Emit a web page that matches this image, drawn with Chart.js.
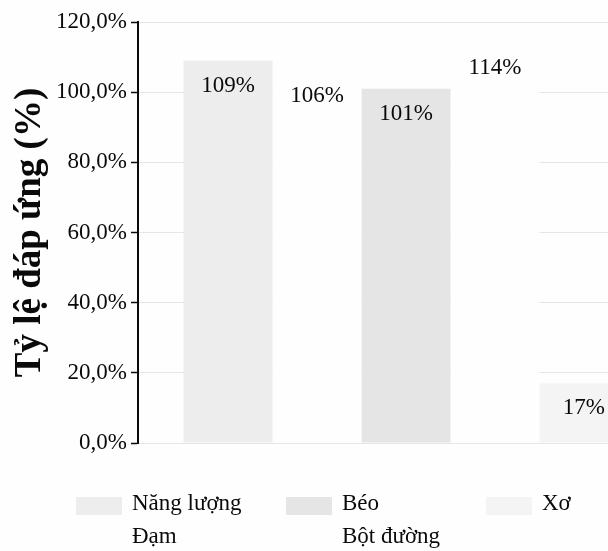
<!DOCTYPE html>
<html>
<head>
<meta charset="utf-8">
<script src="https://cdn.jsdelivr.net/npm/chart.js@4"></script>
<style>
  html, body { margin: 0; padding: 0; background: #fefefe; overflow: hidden; width: 608px; height: 551px; }
  #wrap { position: absolute; left: 0; top: 0; }
</style>
</head>
<body>
<div id="wrap"><canvas id="c" width="700" height="551"></canvas></div>
<script>
// Nutrient groups and their response rates (%)
const categories = [''];
const seriesNames = ['Năng lượng', 'Đạm', 'Béo', 'Bột đường', 'Xơ'];
const seriesValues = [109, 106, 101, 114, 17];
const yTickValues = [0, 20, 40, 60, 80, 100, 120];

// Fill shades for each nutrient group
const fills = ['#ededed', '#fefefe', '#e5e5e5', '#fefefe', '#f4f4f4'];
const PAPER = '#fefefe';
const SERIF = '"Liberation Serif", "Times New Roman", serif';
const INK = '#0a0a0a';

const datasets = seriesNames.map((name, i) => ({
  label: name,
  data: [seriesValues[i]],
  backgroundColor: fills[i],
  borderWidth: 0,
  categoryPercentage: 0.83,
  barPercentage: 1.0
}));

// Paper-coloured background behind everything
const paperBg = {
  id: 'paperBg',
  beforeDraw(chart) {
    const { ctx, width, height } = chart;
    ctx.save();
    ctx.fillStyle = PAPER;
    ctx.fillRect(0, 0, width, height);
    ctx.restore();
  }
};

// Value labels placed just inside the top of each bar
const barValueLabels = {
  id: 'barValueLabels',
  afterDatasetsDraw(chart) {
    const { ctx } = chart;
    ctx.save();
    ctx.font = '23px ' + SERIF;
    ctx.fillStyle = INK;
    ctx.textAlign = 'center';
    ctx.textBaseline = 'middle';
    chart.data.datasets.forEach((ds, i) => {
      const meta = chart.getDatasetMeta(i);
      meta.data.forEach((el, j) => {
        ctx.fillText(ds.data[j] + '%', el.x, el.y + 25);
      });
    });
    ctx.restore();
  }
};

// Legend laid out in columns of two entries each
const columnLegend = {
  id: 'columnLegend',
  afterDraw(chart) {
    const { ctx } = chart;
    const textX = [132, 342, 542];
    const baselines = [510, 543];
    const swW = 46, swH = 18, gap = 10;
    ctx.save();
    ctx.font = '23px ' + SERIF;
    ctx.textAlign = 'left';
    ctx.textBaseline = 'alphabetic';
    chart.data.datasets.forEach((ds, i) => {
      const col = Math.floor(i / 2), row = i % 2;
      const tx = textX[col], by = baselines[row];
      ctx.fillStyle = ds.backgroundColor;
      ctx.fillRect(tx - gap - swW, by - 13, swW, swH);
      ctx.fillStyle = INK;
      ctx.fillText(ds.label, tx, by);
    });
    ctx.restore();
  }
};

new Chart(document.getElementById('c'), {
  type: 'bar',
  data: { labels: categories, datasets },
  options: {
    responsive: false,
    animation: false,
    devicePixelRatio: 1,
    layout: { padding: { left: 0, right: 26, top: 22, bottom: 108 } },
    plugins: {
      legend: { display: false },
      tooltip: { enabled: false }
    },
    scales: {
      x: {
        display: false,
        grid: { display: false }
      },
      y: {
        min: 0,
        max: 120,
        afterFit(scale) { scale.width = 138; },
        afterBuildTicks(scale) { scale.ticks = yTickValues.map(v => ({ value: v })); },
        border: { display: true, color: INK, width: 2 },
        grid: {
          color: '#e6e6e6',
          lineWidth: 1,
          tickColor: INK,
          tickWidth: 1.5,
          tickLength: 7,
          drawTicks: true
        },
        ticks: {
          padding: 4,
          color: INK,
          font: { family: SERIF, size: 23 },
          callback: v => v.toFixed(1).replace('.', ',') + '%'
        },
        title: {
          display: true,
          text: 'Tỷ lệ đáp ứng (%)',
          color: INK,
          font: { family: SERIF, size: 37, weight: 'bold' },
          padding: { top: 8, bottom: 0 }
        }
      }
    }
  },
  plugins: [paperBg, barValueLabels, columnLegend]
});
</script>
</body>
</html>
